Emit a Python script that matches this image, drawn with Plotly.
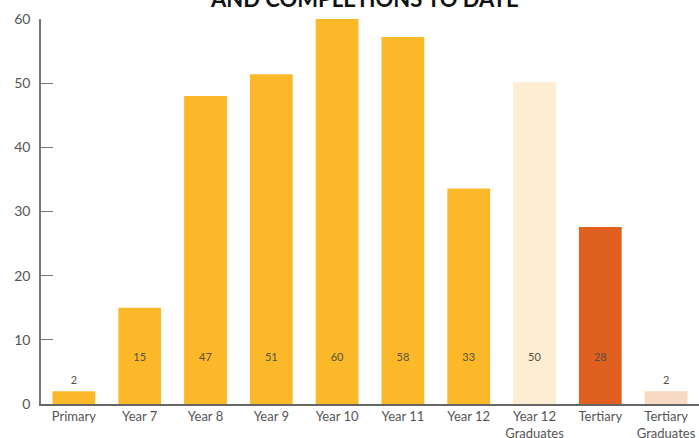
import plotly.graph_objects as go

categories = ["Primary", "Year 7", "Year 8", "Year 9", "Year 10", "Year 11",
              "Year 12", "Year 12<br>Graduates", "Tertiary", "Tertiary<br>Graduates"]
values = [2, 15, 48, 51.4, 60, 57.2, 33.6, 50.2, 27.6, 2]
labels = ["2", "15", "47", "51", "60", "58", "33", "50", "28", "2"]
colors = ["#FBB829"] * 7 + ["#FDEED3", "#E0601F", "#F7D9C4"]

label_y = [v + 1.5 if v < 7 else 7.2 for v in values]

fig = go.Figure()
fig.add_trace(go.Bar(x=categories, y=values, marker=dict(color=colors, line=dict(width=0)),
                     hoverinfo="skip", showlegend=False))
fig.add_trace(go.Scatter(x=categories, y=label_y, text=labels, mode="text",
                         textfont=dict(family="Lato", size=11, color="#5a5040"),
                         textposition="middle center", showlegend=False, hoverinfo="skip"))

fig.add_annotation(text="<b>AND COMPLETIONS TO DATE</b>", xref="paper", yref="paper",
                   x=0.492, y=1.0, yanchor="bottom", yshift=5, showarrow=False,
                   font=dict(family="Lato", size=22, color="#111111"))

fig.update_layout(
    width=699, height=438,
    margin=dict(l=41, r=0, t=19, b=34, autoexpand=False),
    plot_bgcolor="white", paper_bgcolor="white",
    bargap=0.35,
    font=dict(family="Lato", color="#555555"),
    xaxis=dict(showline=True, linecolor="#666666", linewidth=1.5, ticks="",
               tickfont=dict(size=13, color="#555555"), showgrid=False,
               range=[-0.5, 9.5], automargin=False),
    yaxis=dict(range=[0, 60], dtick=10, showline=True, linecolor="#777777", linewidth=1.5,
               ticks="inside", ticklen=12, tickcolor="#777777", tickwidth=1.2,
               showgrid=False, zeroline=False, tickfont=dict(size=14, color="#555555"),
               ticklabelstandoff=6, automargin=False),
)

fig.write_html("out.html", config={"displayModeBar": False},
               post_script="document.body.style.margin='0';document.body.style.overflow='hidden';")
